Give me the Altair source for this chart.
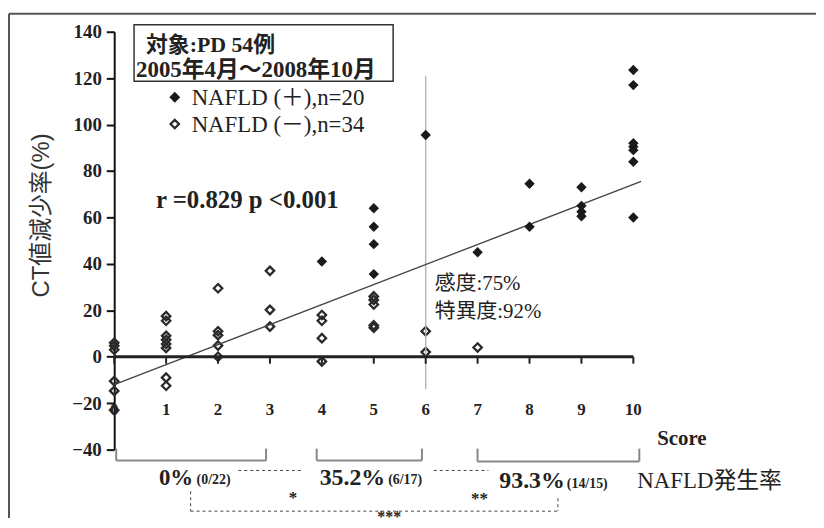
import altair as alt
import pandas as pd

# ---------------- data ----------------
neg_score = [0, 0, 0, 0, 0, 0,
             1, 1, 1, 1, 1, 1, 1, 1,
             2, 2, 2, 2, 2,
             3, 3, 3,
             4, 4, 4, 4,
             5, 5, 5, 5, 5,
             6, 6,
             7]
neg_value = [6, 4.7, 3, -10.5, -14.7, -23,
             17.5, 15.5, 9, 7.3, 5.5, 3.8, -9, -12.5,
             29.5, 11, 9.3, 4.8, 0,
             37, 20.2, 13,
             18, 15.5, 8, -2,
             26, 24.5, 22.5, 13.5, 12.5,
             11, 2,
             4]
pos_score = [4, 5, 5, 5, 5, 6, 7, 8, 8, 9, 9, 9, 9, 10, 10, 10, 10, 10, 10, 10]
pos_value = [41, 64, 56, 48.5, 35.6, 95.5, 45, 74.5, 56, 73, 65, 62.5, 60.5,
             123.5, 117, 92, 90.5, 89, 84, 60]
fit_x = [0, 10.15]
fit_y = [-12, 75.5]
cut_score = [6]
cut_low = [-14]
cut_high = [121]
score_ticks = list(range(0, 11))
y_ticks = list(range(-40, 141, 20))

SERIF = "Liberation Serif, Noto Sans CJK JP"
SANS = "Liberation Sans, Noto Sans CJK JP"
INK = "#222222"

W, H = 523, 421
xs = alt.Scale(domain=[0, 10], nice=False, zero=False)
ys = alt.Scale(domain=[-40, 140], nice=False, zero=False)

one = pd.DataFrame({"k": [0]})
neg_df = pd.DataFrame({"score": neg_score, "value": neg_value})
pos_df = pd.DataFrame({"score": pos_score, "value": pos_value})
fit_df = pd.DataFrame({"score": fit_x, "value": fit_y})
cut_df = pd.DataFrame({"score": cut_score, "lo": cut_low, "hi": cut_high})
tick_df = pd.DataFrame({"score": score_ticks, "y0": [0] * len(score_ticks),
                        "y1": [-3] * len(score_ticks),
                        "lab": [str(s) for s in score_ticks]})
zero_df = pd.DataFrame({"a": [score_ticks[0]], "b": [score_ticks[-1]], "y": [0]})

yaxis = alt.Axis(values=y_ticks, title=None, grid=False,
                 domainColor="#111111", domainWidth=2,
                 tickColor="#111111", tickWidth=2, tickSize=8,
                 labelFont=SERIF, labelFontSize=19, labelFontWeight="bold",
                 labelColor=INK, labelPadding=5)


def X(f):
    return alt.X(f, type="quantitative", scale=xs, axis=None)


def Y(f):
    return alt.Y(f, type="quantitative", scale=ys)


def txt(s, x, y, size, weight="normal", align="left", font=SERIF, color=INK,
        baseline="middle", angle=0):
    return alt.Chart(one).mark_text(
        text=s, align=align, baseline=baseline, fontSize=size,
        fontWeight=weight, font=font, color=color, angle=angle
    ).encode(x=alt.value(x), y=alt.value(y))


def hline(x1, x2, y, color="#888888", w=2.0, dash=None):
    kw = dict(color=color, strokeWidth=w)
    if dash:
        kw["strokeDash"] = dash
    return alt.Chart(one).mark_rule(**kw).encode(
        x=alt.value(x1), x2=alt.value(x2), y=alt.value(y))


def vline(x, y1, y2, color="#888888", w=2.0, dash=None):
    kw = dict(color=color, strokeWidth=w)
    if dash:
        kw["strokeDash"] = dash
    return alt.Chart(one).mark_rule(**kw).encode(
        x=alt.value(x), y=alt.value(y1), y2=alt.value(y2))


def bracket(x1, x2, ytop, ybot):
    return [hline(x1, x2, ybot), vline(x1, ytop, ybot), vline(x2, ytop, ybot)]


# ---------------- chart layers ----------------
neg_pts = alt.Chart(neg_df).mark_point(
    shape="diamond", filled=False, color="#2a2a2a", strokeWidth=2.3, size=72, opacity=1
).encode(x=X("score"),
         y=alt.Y("value", type="quantitative", scale=ys, axis=yaxis))

pos_pts = alt.Chart(pos_df).mark_point(
    shape="diamond", filled=True, color="#1a1a1a", size=110, opacity=1
).encode(x=X("score"), y=Y("value"))

fit_line = alt.Chart(fit_df).mark_line(color="#444444", strokeWidth=1.3).encode(
    x=X("score"), y=Y("value"))

cut_line = alt.Chart(cut_df).mark_rule(color="#b0b0b0", strokeWidth=1.3).encode(
    x=X("score"), y=Y("lo"), y2="hi")

zero_line = alt.Chart(zero_df).mark_rule(color=INK, strokeWidth=3).encode(
    x=X("a"), x2="b", y=Y("y"))

ticks = alt.Chart(tick_df).mark_rule(color=INK, strokeWidth=2).encode(
    x=X("score"), y=Y("y0"), y2="y1")

tick_labels = alt.Chart(tick_df).mark_text(
    font=SERIF, fontSize=17, fontWeight="bold", color=INK, baseline="middle"
).encode(x=X("score"), y=alt.value(381), text="lab:N")

# frame
frame = [hline(-106, 707, -18, color="#555555", w=2),
         vline(-106, -18, 490, color="#555555", w=2)]

# legend box
box = alt.Chart(one).mark_rect(fill="white", stroke="#333333", strokeWidth=1.5).encode(
    x=alt.value(20), x2=alt.value(281), y=alt.value(-7), y2=alt.value(50))

legend_syms = [
    alt.Chart(one).mark_point(shape="diamond", filled=True, color="#1a1a1a", size=120,
                              opacity=1).encode(x=alt.value(61), y=alt.value(66)),
    alt.Chart(one).mark_point(shape="diamond", filled=False, color="#2a2a2a", size=72,
                              strokeWidth=2.3, opacity=1).encode(x=alt.value(61), y=alt.value(93)),
]

texts = [
    txt("CT値減少率(%)", -73, 185, 24, font=SANS, color="#333333",
        align="center", angle=270),
    txt("対象:PD 54例", 32, 13, 22, "bold"),
    txt("2005年4月〜2008年10月", 22, 39, 23, "bold"),
    txt("NAFLD (＋),n=20", 78, 67, 23),
    txt("NAFLD (－),n=34", 78, 94, 23),
    txt("r =0.829 p <0.001", 42, 170, 25, "bold"),
    txt("感度:75%", 323, 254, 21),
    txt("特異度:92%", 323, 282, 21),
    txt("Score", 547, 410, 21, "bold"),
    txt("0%", 45, 450, 23, "bold"),
    txt("(0/22)", 83, 452, 14, "bold"),
    txt("*", 180, 470, 17, "bold", align="center"),
    txt("35.2%", 207, 450, 24, "bold"),
    txt("(6/17)", 276, 452, 14, "bold"),
    txt("**", 368, 471, 17, "bold", align="center"),
    txt("93.3%", 388, 453, 24, "bold"),
    txt("(14/15)", 456, 456, 14, "bold"),
    txt("NAFLD発生率", 527, 453, 23),
    txt("***", 277, 494, 16, "bold", align="center", baseline="alphabetic"),
]

brackets = (bracket(2, 153, 420, 432) + bracket(204, 310, 420, 432)
            + bracket(366, 529, 420, 433))

dots = [
    hline(125, 188, 442, color="#444444", w=1, dash=[3, 3]),
    hline(322, 377, 442, color="#444444", w=1, dash=[3, 3]),
    vline(77, 463, 483, color="#444444", w=1, dash=[3, 3]),
    hline(77, 447, 483, color="#444444", w=1, dash=[3, 3]),
    vline(447, 470, 483, color="#444444", w=1, dash=[3, 3]),
]

layers = ([neg_pts] + frame + [box] + legend_syms + texts + brackets + dots
          + [cut_line, fit_line, zero_line, ticks, tick_labels, pos_pts])

chart = alt.layer(*layers).properties(
    width=W, height=H,
    autosize=alt.AutoSizeParams(type="none"),
    padding={"left": 107, "top": 22, "right": 184, "bottom": 69},
    background="white",
).configure_view(stroke=None)

chart.save("out.html", embed_options={"renderer": "svg", "actions": False})
